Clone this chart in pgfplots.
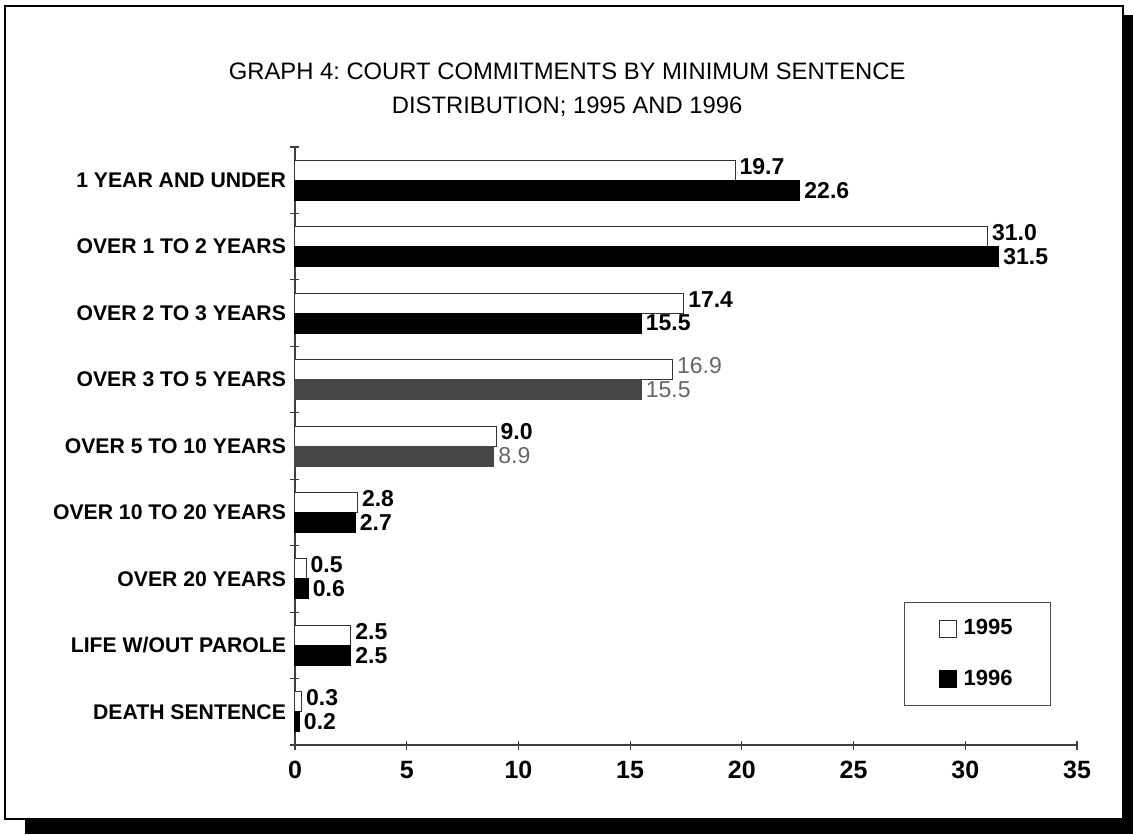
\documentclass[border=0pt]{standalone}
\usepackage{fontspec}
\setmainfont{Liberation Sans}
\usepackage{pgfplots}
\pgfplotsset{compat=1.18}
\frenchspacing

\begin{document}
\begin{tikzpicture}
\begin{axis}[
    name=ax,
    scale only axis, width=391pt, height=299pt,
    xbar, bar width=10pt,
    xmin=0, xmax=35, ymin=-0.5, ymax=8.5,
    clip=false,
    axis x line*=bottom, axis y line*=left,
    axis line style={black!75, line width=0.6pt},
    % ticks sit on category boundaries, labels at the centres
    major tick length=0pt,
    minor tick length=4.5pt,
    tick align=center,
    tick style={black!75, line width=0.6pt},
    xtick={0,5,...,35},
    minor xtick={0,5,...,35},
    ytick={0,...,8},
    minor ytick={-0.5,0.5,...,8.5},
    yticklabels={DEATH SENTENCE, LIFE W/OUT PAROLE, OVER 20 YEARS,
        OVER 10 TO 20 YEARS, OVER 5 TO 10 YEARS, OVER 3 TO 5 YEARS,
        OVER 2 TO 3 YEARS, OVER 1 TO 2 YEARS, 1 YEAR AND UNDER},
    yticklabel style={font=\bfseries\fontsize{10.6}{12}\selectfont, xshift=-1pt},
    xticklabel style={font=\bfseries\fontsize{12.5}{14}\selectfont, yshift=-4.5pt},
    /pgf/number format/assume math mode=true,
    title={GRAPH 4: COURT COMMITMENTS BY MINIMUM SENTENCE\\DISTRIBUTION; 1995 AND 1996},
    title style={at={(0.348,1.0757)}, anchor=center, align=center,
        font=\fontsize{11.9}{17}\selectfont},
    point meta=x,
    every node near coord/.append style={anchor=west, inner sep=2pt,
        font=\fontsize{11.5}{13}\selectfont,
        /pgf/number format/fixed, /pgf/number format/fixed zerofill,
        /pgf/number format/precision=1,
        /pgf/number format/assume math mode=true},
    legend image code/.code={\draw[#1] (0pt,-4.25pt) rectangle (8.5pt,4.25pt);},
    legend entries={1995,1996},
    legend style={at={(0.779,0.239)}, anchor=north west,
        draw=black!70, line width=0.5pt,
        font=\bfseries\fontsize{11}{12}\selectfont,
        inner xsep=17pt, inner ysep=6.5pt, row sep=12pt,
        /tikz/every odd column/.append style={column sep=1.5pt},
        cells={anchor=west}},
]
% 1995
\addplot[fill=white, draw=black!80, line width=0.5pt, bar shift=5pt,
    nodes near coords, every node near coord/.append style={black, font=\bfseries\fontsize{11.5}{13}\selectfont, yshift=2pt}]
    coordinates {(19.7,8) (31.0,7) (17.4,6) (9.0,4) (2.8,3) (0.5,2) (2.5,1) (0.3,0)};
% 1996
\addplot[fill=black, draw=black, line width=0.5pt, bar shift=-5pt,
    nodes near coords, every node near coord/.append style={black, font=\bfseries\fontsize{11.5}{13}\selectfont}]
    coordinates {(22.6,8) (31.5,7) (15.5,6) (2.7,3) (0.6,2) (2.5,1) (0.2,0)};
% faded rows of the scan
\addplot[forget plot, fill=white, draw=black!80, line width=0.5pt, bar shift=5pt,
    nodes near coords, every node near coord/.append style={black!60, yshift=2pt}]
    coordinates {(16.9,5)};
\addplot[forget plot, fill=black!72, draw=black!72, line width=0.5pt, bar shift=-5pt,
    nodes near coords, every node near coord/.append style={black!60}]
    coordinates {(15.5,5) (8.9,4)};
\end{axis}

% frame with shadow, in pt from the axis corner
\begin{scope}[shift={(ax.south west)}]
\path (-147.5pt,-44.5pt) rectangle (419pt,372.5pt);
\fill[black] (414pt,-44.5pt) rectangle (419pt,365pt);
\fill[black] (-135pt,-44.5pt) rectangle (419pt,-37pt);
\draw[black, line width=1pt] (-145pt,-37pt) rectangle (414pt,369.5pt);
\end{scope}
\end{tikzpicture}
\end{document}
